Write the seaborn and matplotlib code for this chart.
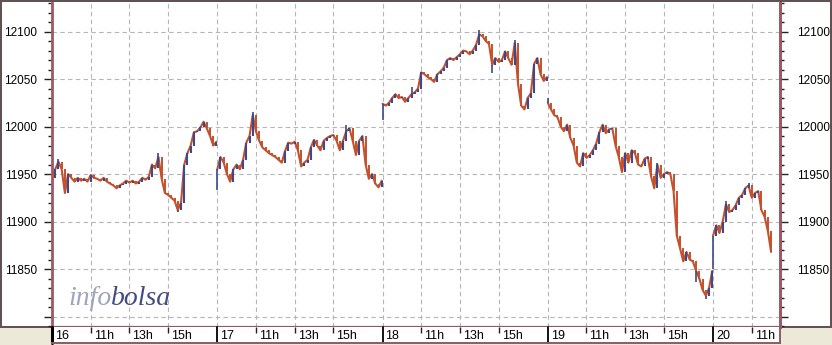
import numpy as np
import pandas as pd
import matplotlib
matplotlib.use("Agg")
import matplotlib.pyplot as plt
import matplotlib.transforms as mtransforms
from matplotlib.patches import Rectangle
from matplotlib.ticker import MultipleLocator
import seaborn as sns

# ---------------- data ----------------
day_labels = ["16", "17", "18", "19", "20"]
hour_labels = ["11h", "13h", "15h"]
hour_values = [11, 13, 15]

# closes every 10 minutes from 9:00
close_16 = [11946, 11955, 11963, 11955, 11930, 11950, 11946, 11942, 11946, 11943,
            11945, 11942, 11949, 11946, 11945, 11943, 11946, 11942, 11940, 11938,
            11935, 11938, 11940, 11943, 11941, 11943, 11940, 11942, 11946, 11944,
            11947, 11960, 11956, 11968, 11945, 11930, 11928, 11925, 11922, 11912,
            11920, 11960, 11972, 11980, 11994, 11995, 11999, 12005, 11998, 11990,
            11980, 11984]
close_17 = [11955, 11968, 11962, 11950, 11942, 11955, 11960, 11955, 11965, 11983,
            11990, 12012, 11995, 11985, 11978, 11975, 11972, 11970, 11968, 11965,
            11962, 11974, 11983, 11982, 11984, 11975, 11958, 11962, 11965, 11978,
            11986, 11980, 11975, 11985, 11988, 11990, 11991, 11985, 11975, 11985,
            11995, 11998, 11985, 11970, 11985, 11990, 11960, 11945, 11950, 11940,
            11936, 11943]
close_18 = [12024, 12022, 12025, 12030, 12034, 12030, 12031, 12026, 12030, 12034,
            12036, 12040, 12057, 12055, 12052, 12050, 12047, 12055, 12058, 12062,
            12070, 12072, 12070, 12073, 12076, 12080, 12079, 12076, 12080, 12086,
            12097, 12095, 12090, 12087, 12065, 12072, 12068, 12070, 12079, 12072,
            12065, 12088, 12045, 12022, 12018, 12030, 12035, 12066, 12072, 12055,
            12048, 12052]
close_19 = [12025, 12018, 12012, 12010, 12000, 11995, 12002, 11988, 11980, 11962,
            11958, 11972, 11967, 11970, 11975, 11982, 11994, 12002, 11993, 11997,
            11998, 11980, 11968, 11952, 11972, 11962, 11975, 11972, 11960, 11958,
            11966, 11968, 11948, 11935, 11960, 11946, 11950, 11952, 11950, 11932,
            11885, 11872, 11858, 11868, 11860, 11858, 11848, 11840, 11828, 11822,
            11830, 11848]
close_20 = [11885, 11896, 11888, 11900, 11918, 11910, 11912, 11917, 11925, 11928,
            11935, 11938, 11925, 11930, 11932, 11912, 11905, 11890, 11868]

# intraday extremes (wicks): day index, bar index, value
spike_day = [0, 0, 0, 1, 1, 1, 2, 2, 2, 2, 2, 3, 3, 3, 3, 4, 4, 4]
spike_idx = [2, 33, 39, 0, 11, 40, 0, 9, 30, 34, 41, 0, 34, 46, 49, 0, 4, 11]
spike_val = [11966, 11972, 11910, 11933, 12015, 12002, 12007, 12042, 12102, 12056,
             12091, 12030, 11962, 11836, 11818, 11850, 11922, 11941]

# ---------------- layout ----------------
W, H = 832, 345
DAY_LEN = 8.54          # trading hours per session on the axis (9:00 - 17:32)
X_MAX = 37.62
RED = "#C4512C"
BLUE = "#3B4A8E"

days = [close_16, close_17, close_18, close_19, close_20]
xs, ys, ds = [], [], []
for d, cl in enumerate(days):
    xs.extend(d * DAY_LEN + np.arange(len(cl)) / 6.0)
    ys.extend(cl)
    ds.extend([d] * len(cl))
df = pd.DataFrame({"x": xs, "close": ys, "day": ds})

sns.set_theme(style="white")
plt.rcParams["font.family"] = ["Liberation Sans", "DejaVu Sans"]

fig = plt.figure(figsize=(W / 100, H / 100), dpi=100, facecolor="#ECE9D8")
fig.patches.append(Rectangle((1 / W, 18 / H), (W - 2.5) / W, (H - 19) / H,
                             transform=fig.transFigure, facecolor="white",
                             edgecolor="#5E4E4E", lw=1.4, zorder=-5))

ax = fig.add_axes([52 / W, 18 / H, 728 / W, 324 / H])
ax.set_facecolor("white")

sns.lineplot(data=df, x="x", y="close", units="day", ax=ax, color=RED, lw=1.5,
             estimator=None, sort=False, zorder=3)
xv = df["x"].to_numpy()
yv = df["close"].to_numpy()
dv = df["day"].to_numpy()
same = dv[1:] == dv[:-1]
prev = yv[:-1]
cur = yv[1:]
up = (cur > prev) & same
dn = (cur <= prev) & same
ax.vlines(xv[1:][up], prev[up], cur[up], color=BLUE, lw=1.5, zorder=4)
ax.vlines(xv[1:][dn], prev[dn], cur[dn], color=RED, lw=1.4, zorder=3)

sx = [spike_day[k] * DAY_LEN + spike_idx[k] / 6.0 for k in range(len(spike_day))]
sy0 = [days[spike_day[k]][spike_idx[k]] for k in range(len(spike_day))]
ax.vlines(sx, sy0, spike_val, color=BLUE, lw=1.2, zorder=4)

ax.set_xlim(0, X_MAX)
ax.set_ylim(11789, 12130)
ax.set_xlabel("")
ax.set_ylabel("")

day_pos = [d * DAY_LEN for d in range(len(day_labels))]
tick_pos, tick_lab = [], []
for d, lab in enumerate(day_labels):
    tick_pos.append(day_pos[d])
    tick_lab.append(lab)
    for h, hl in zip(hour_values, hour_labels):
        p = day_pos[d] + (h - 9)
        if p < X_MAX:
            tick_pos.append(p)
            tick_lab.append(hl)

ax.set_xticks(tick_pos)
ax.set_xticklabels([])
ax.tick_params(axis="x", length=0)

yt = np.arange(11800, 12101, 50)
ylab = [""] + [str(v) for v in yt[1:]]
ax.set_yticks(yt)
ax.set_yticklabels(ylab)
ax.yaxis.set_minor_locator(MultipleLocator(10))
ax.yaxis.set_ticks_position("left")
ax.tick_params(axis="y", which="major", direction="out", length=6, width=1,
               color="#222222", pad=5, labelsize=8.5, labelcolor="black", left=True)
ax.tick_params(axis="y", which="minor", direction="out", length=3, width=1,
               color="#222222", left=True)
ax.grid(True, which="major", color="#B6B6B6", ls=(0, (4, 3)), lw=0.8)
ax.grid(False, which="minor")
ax.spines["top"].set_visible(False)
ax.spines["left"].set_color("#9C5A66")
ax.spines["left"].set_linewidth(2)
ax.spines["right"].set_color("#9C5A66")
ax.spines["right"].set_linewidth(2)
ax.spines["bottom"].set_color("#8E5A66")
ax.spines["bottom"].set_linewidth(1.6)

ax2 = ax.twinx()
ax2.set_ylim(ax.get_ylim())
ax2.set_yticks(yt)
ax2.set_yticklabels(ylab)
ax2.yaxis.set_minor_locator(MultipleLocator(10))
ax2.tick_params(axis="y", which="major", direction="out", length=6, width=1,
                color="#222222", pad=6, labelsize=8.5, labelcolor="black")
ax2.tick_params(axis="y", which="minor", direction="out", length=3, width=1,
                color="#222222")
ax2.grid(False)
for s in ["top", "left", "bottom"]:
    ax2.spines[s].set_visible(False)
ax2.spines["right"].set_color("#9C5A66")
ax2.spines["right"].set_linewidth(2)

# watermark
t1 = ax.text((68 - 52) / 728, (327 - 305) / 324, "info", transform=ax.transAxes,
             fontsize=20, family="Liberation Serif", style="italic",
             color="#A0A4BC", ha="left", va="baseline", zorder=1)
ax.annotate("bolsa", xy=(1, 0), xycoords=t1, fontsize=20,
            family="Liberation Serif", style="italic", color="#424C80",
            ha="left", va="bottom", zorder=1)

# x band
axb = fig.add_axes([52 / W, 2 / H, 728 / W, 16 / H])
axb.set_facecolor("white")
axb.set_xlim(0, X_MAX)
axb.set_ylim(0, 1)
axb.set_yticks([])
hour_pos = [p for p, l in zip(tick_pos, tick_lab) if l.endswith("h")]
axb.set_xticks(hour_pos)
axb.tick_params(axis="x", direction="in", length=4, width=1, color="#222222",
                top=True, bottom=False, labelbottom=False, labeltop=False)
axb.grid(False)
for s in ["top", "left"]:
    axb.spines[s].set_visible(False)
axb.spines["bottom"].set_color("#8E5A66")
axb.spines["bottom"].set_linewidth(1.4)
axb.spines["right"].set_color("#8E5A66")
axb.spines["right"].set_linewidth(1.4)
for dp in day_pos:
    axb.axvline(dp, color="black", lw=1.3, clip_on=False)
axb.axvline(0, color="black", lw=2.2, clip_on=False)

trans = mtransforms.blended_transform_factory(axb.transData, axb.transAxes)
off = mtransforms.offset_copy(trans, fig=fig, x=3, y=0, units="dots")
for p, l in zip(tick_pos, tick_lab):
    axb.text(p, 0.42, l, transform=off, ha="left", va="center", fontsize=9,
             color="black")

fig.savefig("out.png", dpi=100, facecolor=fig.get_facecolor())
